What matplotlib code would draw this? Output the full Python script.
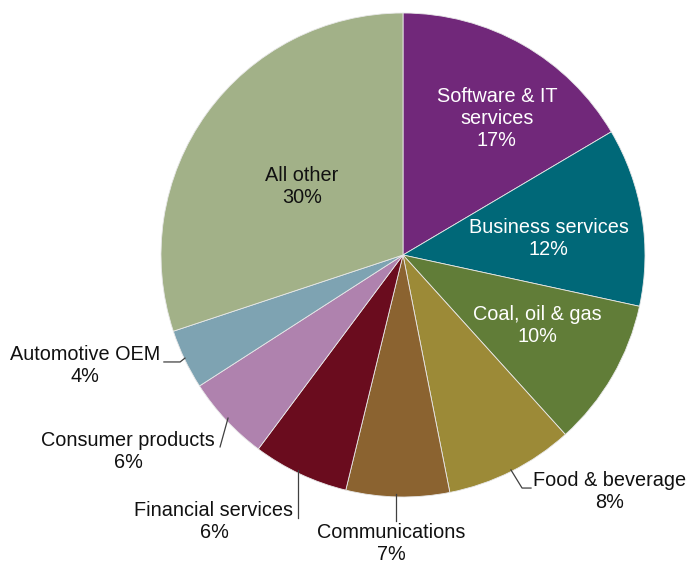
import matplotlib
matplotlib.use("Agg")
import matplotlib.pyplot as plt

# Data (slice sizes; labels as printed)
categories = ["Software & IT\nservices", "Business services", "Coal, oil & gas",
              "Food & beverage", "Communications", "Financial services",
              "Consumer products", "Automotive OEM", "All other"]
shares = [16.5, 11.9, 9.9, 8.6, 6.9, 6.4, 5.7, 4.0, 30.1]
pct_labels = ["17%", "12%", "10%", "8%", "7%", "6%", "6%", "4%", "30%"]
colors = ["#71287A", "#006878", "#617D38", "#9C8A37", "#8B6330",
          "#6A0C1E", "#AF82AE", "#7EA3B2", "#A2B188"]

plt.rcParams['font.family'] = ['Liberation Sans', 'DejaVu Sans']

fig = plt.figure(figsize=(6.89, 5.66), dpi=100)
ax = fig.add_axes([0, 0, 1, 1])
ax.pie(shares, colors=colors, startangle=90, counterclock=False, radius=1.0,
       center=(0, 0), wedgeprops=dict(edgecolor="#e8e8e8", linewidth=0.6))
ax.set_xlim(-403 / 242, (689 - 403) / 242)
ax.set_ylim((255 - 566) / 242, 255 / 242)
ax.set_aspect('auto')
ax.axis('off')

label_pos = [(0.388, 0.566), (0.603, 0.070), (0.554, -0.293), (0.855, -0.979),
             (-0.050, -1.192), (-0.781, -1.103), (-1.136, -0.814),
             (-1.314, -0.455), (-0.417, 0.285)]
text_colors = ["white", "white", "white", "#111111", "#111111", "#111111",
               "#111111", "#111111", "#111111"]
for cat, pl, (x, y), tc in zip(categories, pct_labels, label_pos, text_colors):
    ax.text(x, y, f"{cat}\n{pl}", ha='center', va='center', fontsize=14.3,
            color=tc, linespacing=1.2)

leaders = [
    [(0.446, -0.888), (0.492, -0.963), (0.529, -0.963)],
    [(-0.029, -0.988), (-0.029, -1.100)],
    [(-0.434, -0.888), (-0.434, -1.087)],
    [(-0.723, -0.674), (-0.756, -0.793)],
    [(-0.901, -0.426), (-0.921, -0.442), (-0.988, -0.442)],
]
for pts in leaders:
    xs, ys = zip(*pts)
    ax.plot(xs, ys, color="#404040", lw=0.9)

fig.savefig("out.png", dpi=100, facecolor="white")
